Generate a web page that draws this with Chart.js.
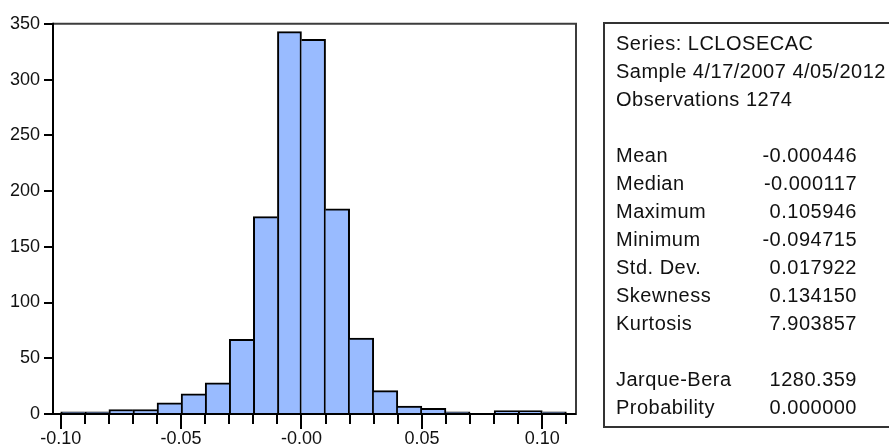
<!DOCTYPE html>
<html>
<head>
<meta charset="utf-8">
<script src="https://cdn.jsdelivr.net/npm/chart.js@4/dist/chart.umd.min.js"></script>
<style>
  html, body { margin: 0; padding: 0; background: #fff; }
  body { width: 889px; height: 445px; overflow: hidden; position: relative; }
  #c { position: absolute; left: 0; top: 0; }
  #stats { position: absolute; left: 603px; top: 22px; width: 320px; height: 406px;
           box-sizing: border-box; border: 2px solid #333; }
  .ln { position: absolute; font-family: "Liberation Sans", Arial, sans-serif; font-size: 20px;
        line-height: 28px; letter-spacing: 0.5px; color: #111; white-space: nowrap; }
  .lab { left: 616px; }
  .val { right: 32px; text-align: right; }
</style>
</head>
<body>
<canvas id="c" width="889" height="445"></canvas>
<div id="stats"></div>
<script>
// Histogram of daily log returns: bin edges and counts per bin
const binEdges = [-0.10, -0.09, -0.08, -0.07, -0.06, -0.05, -0.04, -0.03, -0.02, -0.01, 0.00,
                  0.01, 0.02, 0.03, 0.04, 0.05, 0.06, 0.07, 0.08, 0.09, 0.10, 0.11];
const counts = [2, 2, 4, 4, 10, 18, 28, 67, 177, 343, 336, 184, 68, 21, 7, 5, 2, 0, 3, 3, 2];

// Axis ticks
const yTicks = [0, 50, 100, 150, 200, 250, 300, 350];
const xMajorTicks = [-0.10, -0.05, 0.00, 0.05, 0.10];
const xTickLabels = ['-0.10', '-0.05', '-0.00', '0.05', '0.10'];

// Descriptive statistics panel
const headerLines = ['Series: LCLOSECAC', 'Sample 4/17/2007 4/05/2012', 'Observations 1274'];
const statNames = ['Mean', 'Median', 'Maximum', 'Minimum', 'Std. Dev.', 'Skewness', 'Kurtosis'];
const statValues = ['-0.000446', '-0.000117', '0.105946', '-0.094715', '0.017922', '0.134150', '7.903857'];
const testNames = ['Jarque-Bera', 'Probability'];
const testValues = ['1280.359', '0.000000'];

// ---- statistics text ----
(function buildStats() {
  const rows = [];
  headerLines.forEach(t => rows.push([t, null]));
  rows.push(null);
  statNames.forEach((n, i) => rows.push([n, statValues[i]]));
  rows.push(null);
  testNames.forEach((n, i) => rows.push([n, testValues[i]]));
  rows.forEach((r, i) => {
    if (!r) return;
    const top = 29.4 + 28 * i;
    const a = document.createElement('div');
    a.className = 'ln lab';
    a.style.top = top + 'px';
    a.textContent = r[0];
    document.body.appendChild(a);
    if (r[1] !== null) {
      const b = document.createElement('div');
      b.className = 'ln val';
      b.style.top = top + 'px';
      b.textContent = r[1];
      document.body.appendChild(b);
    }
  });
})();

// ---- histogram ----
const barData = counts.map((c, i) => ({ x: (binEdges[i] + binEdges[i + 1]) / 2, y: c }));
const tickFont = { family: '"Liberation Sans", Arial, sans-serif', size: 18 };
const textColor = '#111';

// Draws plot frame, axes and tick marks on top of the bars
const framePlugin = {
  id: 'frame',
  afterDatasetsDraw(chart) {
    const { ctx, chartArea: a, scales } = chart;
    const xs = scales.x, ys = scales.y;
    ctx.save();
    ctx.lineWidth = 2;
    ctx.lineCap = 'butt';

    ctx.strokeStyle = '#3c3c3c';
    ctx.beginPath();
    ctx.moveTo(a.left, a.top);
    ctx.lineTo(a.right, a.top);
    ctx.lineTo(a.right, a.bottom + 1);
    ctx.stroke();

    ctx.strokeStyle = '#000';
    ctx.beginPath();
    ctx.moveTo(a.left, a.top - 1);
    ctx.lineTo(a.left, a.bottom + 1);
    ctx.moveTo(a.left - 1, a.bottom);
    ctx.lineTo(a.right, a.bottom);
    ctx.stroke();

    ctx.beginPath();
    yTicks.forEach(v => {
      const py = Math.round(ys.getPixelForValue(v));
      ctx.moveTo(a.left - 9, py);
      ctx.lineTo(a.left, py);
    });
    binEdges.forEach(v => {
      const px = Math.round(xs.getPixelForValue(v));
      const major = xMajorTicks.some(m => Math.abs(m - v) < 1e-9);
      ctx.moveTo(px, a.bottom);
      ctx.lineTo(px, a.bottom + (major ? 15 : 10));
    });
    ctx.stroke();
    ctx.restore();
  }
};

new Chart(document.getElementById('c'), {
  type: 'bar',
  data: {
    datasets: [{
      data: barData,
      backgroundColor: '#99bbff',
      borderColor: '#000',
      borderSkipped: 'start',
      borderWidth: (ctx) => {
        const i = ctx.dataIndex;
        const c = counts[i];
        const prev = i > 0 ? counts[i - 1] : 0;
        const next = i < counts.length - 1 ? counts[i + 1] : 0;
        return { top: 2, bottom: 0, left: prev <= c ? 2 : 0, right: next < c ? 2 : 0 };
      },
      barPercentage: 1,
      categoryPercentage: 1
    }]
  },
  options: {
    responsive: false,
    devicePixelRatio: 1,
    animation: false,
    layout: { padding: { left: 0, top: 21, right: 313, bottom: 0 } },
    plugins: { legend: { display: false }, tooltip: { enabled: false } },
    scales: {
      x: {
        type: 'linear',
        offset: false,
        min: -0.1032,
        max: 0.114,
        afterBuildTicks: (s) => { s.ticks = xMajorTicks.map(v => ({ value: v })); },
        afterFit: (s) => { s.height = 31; },
        ticks: {
          callback: (v, i) => xTickLabels[i],
          autoSkip: false, maxRotation: 0, minRotation: 0,
          padding: 14, font: tickFont, color: textColor
        },
        grid: { display: false, drawTicks: false, offset: false },
        border: { display: false }
      },
      y: {
        type: 'linear',
        min: 0,
        max: 350,
        afterBuildTicks: (s) => { s.ticks = yTicks.map(v => ({ value: v })); },
        afterFit: (s) => { s.width = 53; },
        ticks: { padding: 13, font: tickFont, color: textColor },
        grid: { display: false, drawTicks: false },
        border: { display: false }
      }
    }
  },
  plugins: [framePlugin]
});
</script>
</body>
</html>
